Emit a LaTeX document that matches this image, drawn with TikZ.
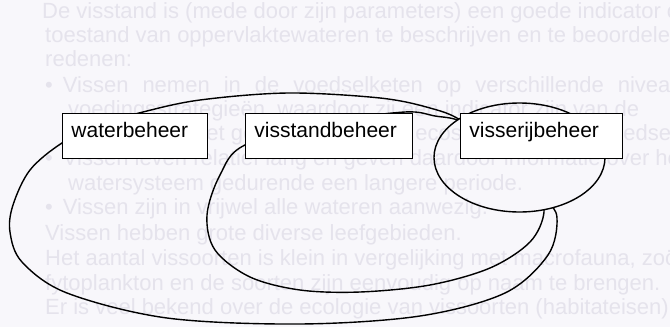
\documentclass[tikz,border=0pt]{standalone}
\usepackage{fontspec}
\setmainfont{Liberation Sans}
\definecolor{bgc}{RGB}{248,247,251}
\definecolor{ghost}{RGB}{229,227,236}
\begin{document}
\begin{tikzpicture}[x=1pt,y=-1pt,
  lbl/.style={draw=black, line width=0.9pt, fill=white, anchor=north west,
    inner xsep=9pt, inner ysep=0pt, align=left, text height=24pt, text depth=21pt,
    font=\fontsize{21}{24}\selectfont},
  ghosttext/.style={anchor=base west, inner sep=0pt, text=ghost,
    font=\fontsize{22}{26}\selectfont},
  bigcurve/.style={line width=1.4pt, line join=round}]
\useasboundingbox (0,0) rectangle (670,327);
\fill[bgc] (0,0) rectangle (670,327);
% faded text of the slide behind
\node[ghosttext] (g1) at (42,18) {De visstand is (mede door zijn parameters) een goede indicator om de};
\node[ghosttext] (g2) at (45,42) {toestand van oppervlaktewateren te beschrijven en te beoordelen};
\node[ghosttext] (g3) at (45,66) {redenen:};
\node[ghosttext] (g4) at (45,92) {\textbullet\hspace{10pt}Vissen\hspace{14pt}nemen\hspace{14pt}in\hspace{14pt}de\hspace{14pt}voedselketen\hspace{14pt}op\hspace{14pt}verschillende\hspace{14pt}niveaus};
\node[ghosttext] (g5) at (68,116) {voedingsstrategie\"en, waardoor zij een indicator zijn van de};
\node[ghosttext] (g6) at (68,140) {kwaliteit van het gehele aquatische ecosysteem en de voedselketen.};
\node[ghosttext] (g7) at (45,165) {\textbullet\hspace{10pt}Vissen leven relatief lang en geven daardoor informatie over het};
\node[ghosttext] (g8) at (68,190) {watersysteem gedurende een langere periode.};
\node[ghosttext] (g9) at (45,214) {\textbullet\hspace{10pt}Vissen zijn in vrijwel alle wateren aanwezig.};
\node[ghosttext] (g10) at (45,240) {Vissen hebben grote diverse leefgebieden.};
\node[ghosttext] (g11) at (45,265) {Het aantal vissoorten is klein in vergelijking met macrofauna, zo\"o-};
\node[ghosttext] (g12) at (45,290) {fytoplankton en de soorten zijn eenvoudig op naam te brengen.};
\node[ghosttext] (g13) at (45,314) {Er is veel bekend over de ecologie van vissoorten (habitateisen).};
% big closed curves, hidden inside the small ellipse
\begin{scope}[even odd rule]
  \clip (0,0) rectangle (670,327) (519.5,157.5) ellipse [x radius=85.5pt, y radius=54.5pt];
  \draw[bigcurve] plot[smooth cycle, tension=0.55] coordinates {
    (100,125) (143,112) (200,100) (288,93) (380,98) (430,108) (462,121)
    (510,158) (545,198) (557,218) (548,255) (505,293) (420,316) (300,324)
    (167,318) (67,293) (22,262) (10,232) (13,205) (30,170) (62,143)};
  \draw[bigcurve] plot[smooth cycle, tension=0.55] coordinates {
    (330,122) (405,112) (435,116) (462,122) (505,150) (535,185) (544,212)
    (530,242) (490,268) (430,285) (360,292) (300,290) (250,277) (215,250)
    (207,215) (220,175) (245,145)};
\end{scope}
\draw[bigcurve] (519.5,157.5) ellipse [x radius=85.5pt, y radius=54.5pt];
% labels
\node[lbl, text width=127pt] (wb) at (62,113) {waterbeheer};
\node[lbl, text width=149pt] (vb) at (245,113) {visstandbeheer};
\node[lbl, text width=144pt] (vrb) at (460,113) {visserijbeheer};
\end{tikzpicture}
\end{document}
